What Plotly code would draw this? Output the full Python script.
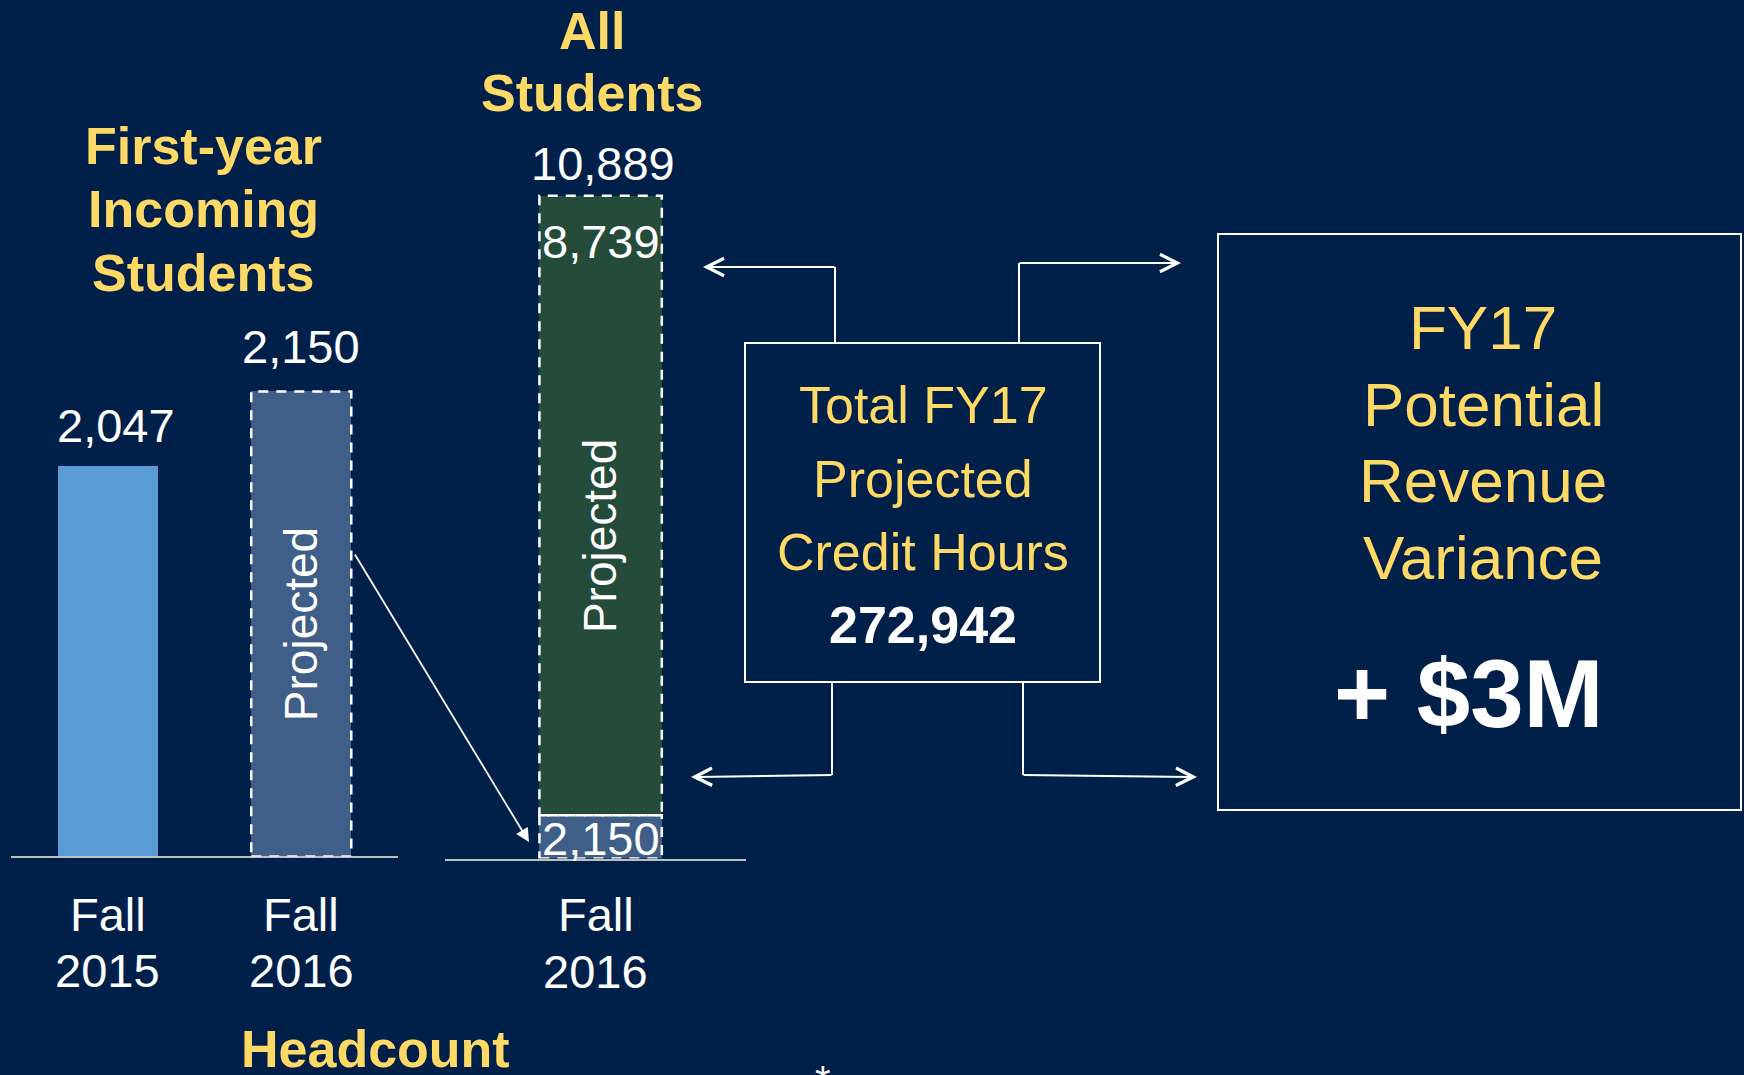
import plotly.graph_objects as go

W, H = 1744, 1075
BG = "#00204A"
YEL = "#FFD966"
WHITE = "#FFFFFF"
LIGHT_BLUE = "#5B9BD5"
SLATE = "#3F5E88"
GREEN = "#254C3B"
FONT = "Liberation Sans, Arial, sans-serif"

# ---------------- data ----------------
fy_categories = ["Fall 2015", "Fall 2016"]
fy_tick_lines = [["Fall", "2015"], ["Fall", "2016"]]
fy_values = [2047, 2150]
fy_projected = [False, True]

all_categories = ["Fall 2016"]
all_tick_lines = [["Fall", "2016"]]
all_first_year = [2150]
all_continuing = [8739]
all_total = [10889]

credit_hours = 272942
revenue_variance = "+ $3M"

left_title = ["First-year", "Incoming", "Students"]
mid_title = ["All", "Students"]
box_lines = ["Total FY17", "Projected", "Credit Hours"]
right_lines = ["FY17", "Potential", "Revenue", "Variance"]


def px(x):
    return x / W


def py(y):
    return 1 - y / H


# axis setup
L_RANGE = [1507, 2553]
M_RANGE = [1539, 12239]
L_BAR_W = 0.517
M_BAR_W = 0.4066

fig = go.Figure()

fy_x = list(range(len(fy_categories)))
fig.add_trace(go.Bar(
    x=fy_x, y=fy_values, width=L_BAR_W,
    marker=dict(color=[SLATE if p else LIGHT_BLUE for p in fy_projected], line=dict(width=0)),
    xaxis="x", yaxis="y", showlegend=False, hoverinfo="skip"))

m_x = list(range(len(all_categories)))
fig.add_trace(go.Bar(
    x=m_x, y=all_first_year, width=M_BAR_W,
    marker=dict(color=SLATE, line=dict(width=0)),
    xaxis="x2", yaxis="y2", showlegend=False, hoverinfo="skip"))
fig.add_trace(go.Bar(
    x=m_x, y=all_continuing, width=M_BAR_W,
    marker=dict(color=GREEN, line=dict(width=0)),
    xaxis="x2", yaxis="y2", showlegend=False, hoverinfo="skip"))

shapes = []
ann = []
DASH = "10px,8px"
DW = 2.5

# dashed outlines for projected bars
for xi, v, p in zip(fy_x, fy_values, fy_projected):
    if p:
        shapes.append(dict(type="rect", xref="x", yref="y",
                           x0=xi - L_BAR_W / 2, x1=xi + L_BAR_W / 2, y0=L_RANGE[0], y1=v,
                           line=dict(color=WHITE, width=DW, dash=DASH)))
for xi, a, b in zip(m_x, all_first_year, all_continuing):
    shapes.append(dict(type="rect", xref="x2", yref="y2",
                       x0=xi - M_BAR_W / 2, x1=xi + M_BAR_W / 2, y0=M_RANGE[0], y1=a,
                       line=dict(color=WHITE, width=DW, dash=DASH)))
    shapes.append(dict(type="rect", xref="x2", yref="y2",
                       x0=xi - M_BAR_W / 2, x1=xi + M_BAR_W / 2, y0=a, y1=a + b,
                       line=dict(color=WHITE, width=DW, dash=DASH)))


def text(x, y, s, size, color=WHITE, bold=False, xref="paper", yref="paper", yshift=0, xshift=0, angle=0):
    ann.append(dict(x=x, y=y, xref=xref, yref=yref, text=(f"<b>{s}</b>" if bold else s),
                    showarrow=False, xanchor="center", yanchor="middle", yshift=yshift, xshift=xshift,
                    textangle=angle, font=dict(family=FONT, size=size, color=color)))


# value labels
text(fy_x[0], fy_values[0], f"{fy_values[0]:,}", 47, xref="x", yref="y", yshift=40, xshift=8)
text(fy_x[1], fy_values[1], f"{fy_values[1]:,}", 47, xref="x", yref="y", yshift=45)
text(m_x[0], all_total[0], f"{all_total[0]:,}", 47, xref="x2", yref="y2", yshift=32, xshift=2)
text(m_x[0], all_total[0], f"{all_continuing[0]:,}", 47, xref="x2", yref="y2", yshift=-46)
text(m_x[0], all_first_year[0], f"{all_first_year[0]:,}", 47, xref="x2", yref="y2", yshift=-23)

# "Projected" rotated labels
text(fy_x[1], (L_RANGE[0] + fy_values[1]) / 2, "Projected", 46, xref="x", yref="y", angle=-90)
text(m_x[0], all_first_year[0] + all_continuing[0] * 0.45, "Projected", 46, xref="x2", yref="y2", angle=-90)

# category labels
for xi, lines in zip(fy_x, fy_tick_lines):
    text(xi, py(914), lines[0], 47, xref="x")
    text(xi, py(970), lines[1], 47, xref="x")
for xi, lines in zip(m_x, all_tick_lines):
    text(xi, py(914), lines[0], 47, xref="x2", xshift=-5)
    text(xi, py(971), lines[1], 47, xref="x2", xshift=-5)

# titles
for s, y in zip(left_title, [146, 209, 273]):
    text(px(203), py(y), s, 52, YEL, bold=True)
for s, y in zip(mid_title, [31, 93]):
    text(px(592), py(y), s, 52, YEL, bold=True)
text(px(375), py(1049), "Headcount", 52, YEL, bold=True)
text(px(823), py(1080), "*", 40)

# centre box
shapes.append(dict(type="rect", xref="paper", yref="paper", x0=px(745), x1=px(1100),
                   y0=py(682), y1=py(343), line=dict(color=WHITE, width=2)))
for s, y in zip(box_lines, [405, 479, 552]):
    text(px(923), py(y), s, 52, YEL)
text(px(923), py(625), f"{credit_hours:,}", 52, WHITE, bold=True)

# right box
shapes.append(dict(type="rect", xref="paper", yref="paper", x0=px(1218), x1=px(1741),
                   y0=py(810), y1=py(234), line=dict(color=WHITE, width=2)))
for s, y in zip(right_lines, [327, 404, 481, 557]):
    text(px(1483), py(y), s, 62, YEL)
text(px(1468), py(693), revenue_variance, 96, WHITE, bold=True)


def vline(x, y0, y1):
    shapes.append(dict(type="line", xref="paper", yref="paper", x0=px(x), x1=px(x),
                       y0=py(y0), y1=py(y1), line=dict(color=WHITE, width=2)))


def arrow(tx, ty, hx, hy, head=5, size=1.7, width=2):
    ann.append(dict(x=px(hx), y=py(hy), xref="paper", yref="paper", ax=tx - hx, ay=ty - hy,
                    axref="pixel", ayref="pixel", text="", showarrow=True, arrowhead=head,
                    arrowsize=size, arrowwidth=width, arrowcolor=WHITE, standoff=0, startstandoff=0))


# elbow connectors
vline(835, 343, 267)
arrow(836, 267, 703, 267)
vline(1019, 343, 263)
arrow(1018, 263, 1181, 263)
vline(832, 682, 775)
arrow(833, 775, 691, 777)
vline(1023, 682, 775)
arrow(1022, 775, 1197, 777)
# diagonal arrow from projected first-year bar to stacked segment
arrow(354, 553, 529, 842, head=2, size=1.5, width=1.8)

axis_common = dict(showgrid=False, zeroline=False, showticklabels=False, ticks="", fixedrange=True)
fig.update_layout(
    width=W, height=H, margin=dict(l=0, r=0, t=0, b=0),
    paper_bgcolor=BG, plot_bgcolor="rgba(0,0,0,0)", barmode="stack", bargap=0,
    xaxis=dict(domain=[px(11), px(398)], range=[-0.5, 1.5], anchor="y",
               showline=True, linecolor="#BFBFBF", linewidth=2, **axis_common),
    yaxis=dict(domain=[py(856.4), py(100)], range=L_RANGE, anchor="x", showline=False, **axis_common),
    xaxis2=dict(domain=[px(445), px(746)], range=[-0.517, 0.483], anchor="y2",
                showline=True, linecolor="#BFBFBF", linewidth=2, **axis_common),
    yaxis2=dict(domain=[py(858.6), py(100)], range=M_RANGE, anchor="x2", showline=False, **axis_common),
    shapes=shapes, annotations=ann,
)

fig.write_html(
    "out.html",
    config={"displayModeBar": False, "staticPlot": True},
    post_script="document.body.style.margin='0';document.body.style.overflow='hidden';",
)
